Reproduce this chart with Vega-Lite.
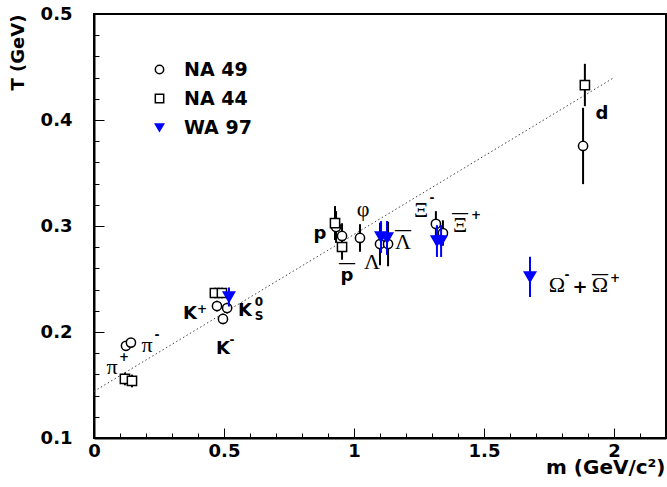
{
  "$schema": "https://vega.github.io/schema/vega-lite/v6.json",
  "width": 572,
  "height": 424,
  "autosize": {"type": "none"},
  "padding": {"left": 94, "top": 14, "right": 1, "bottom": 49},
  "background": "white",
  "config": {
    "font": "DejaVu Sans",
    "view": {"stroke": "black", "strokeWidth": 2},
    "axis": {
      "grid": false,
      "domainColor": "black",
      "domainWidth": 2,
      "tickColor": "black",
      "tickWidth": 1,
      "labelFont": "DejaVu Sans",
      "labelFontWeight": "bold",
      "labelFontSize": 18,
      "labelColor": "black",
      "titleFont": "DejaVu Sans",
      "titleFontWeight": "bold",
      "titleFontSize": 18,
      "titleColor": "black"
    },
    "legend": {
      "orient": "none",
      "legendX": 56,
      "legendY": 46,
      "title": null,
      "padding": 0,
      "labelFont": "DejaVu Sans",
      "labelFontWeight": "bold",
      "labelFontSize": 19,
      "labelColor": "black",
      "symbolSize": 70,
      "symbolStrokeWidth": 1.5,
      "rowPadding": 9,
      "labelOffset": 15
    }
  },
  "datasets": {
    "pts": [
      {"exp": "NA 49", "particle": "pi+", "m": 0.123, "T": 0.187, "err": 0.004},
      {"exp": "NA 49", "particle": "pi-", "m": 0.142, "T": 0.190, "err": 0.004},
      {"exp": "NA 49", "particle": "K+", "m": 0.473, "T": 0.2245, "err": 0.005},
      {"exp": "NA 49", "particle": "K+b", "m": 0.512, "T": 0.2226, "err": 0.005},
      {"exp": "NA 49", "particle": "K-", "m": 0.496, "T": 0.2123, "err": 0.005},
      {"exp": "NA 49", "particle": "p", "m": 0.931, "T": 0.299, "err": 0.015},
      {"exp": "NA 49", "particle": "pbar", "m": 0.954, "T": 0.2906, "err": 0.012},
      {"exp": "NA 49", "particle": "phi", "m": 1.023, "T": 0.2887, "err": 0.013},
      {"exp": "NA 49", "particle": "Lambda", "m": 1.100, "T": 0.283, "err": 0.02},
      {"exp": "NA 49", "particle": "Lambdabar", "m": 1.131, "T": 0.283, "err": 0.021},
      {"exp": "NA 49", "particle": "Xi-", "m": 1.315, "T": 0.302, "err": 0.012},
      {"exp": "NA 49", "particle": "Xibar+", "m": 1.342, "T": 0.2934, "err": 0.012},
      {"exp": "NA 49", "particle": "d", "m": 1.881, "T": 0.3755, "err": 0.036},
      {"exp": "NA 44", "particle": "pi+", "m": 0.119, "T": 0.1557, "err": 0.006},
      {"exp": "NA 44", "particle": "pi-", "m": 0.146, "T": 0.1538, "err": 0.006},
      {"exp": "NA 44", "particle": "K+", "m": 0.465, "T": 0.2368, "err": 0.005},
      {"exp": "NA 44", "particle": "K-", "m": 0.492, "T": 0.2368, "err": 0.005},
      {"exp": "NA 44", "particle": "p", "m": 0.927, "T": 0.3028, "err": 0.016},
      {"exp": "NA 44", "particle": "pbar", "m": 0.954, "T": 0.2802, "err": 0.012},
      {"exp": "NA 44", "particle": "d", "m": 1.888, "T": 0.433, "err": 0.02},
      {"exp": "WA 97", "particle": "K0s", "m": 0.519, "T": 0.233, "err": 0.009},
      {"exp": "WA 97", "particle": "Lambda", "m": 1.104, "T": 0.2896, "err": 0.015},
      {"exp": "WA 97", "particle": "Lambdabar", "m": 1.127, "T": 0.2887, "err": 0.016},
      {"exp": "WA 97", "particle": "Xi-", "m": 1.319, "T": 0.2858, "err": 0.015},
      {"exp": "WA 97", "particle": "Xibar+", "m": 1.335, "T": 0.2858, "err": 0.015},
      {"exp": "WA 97", "particle": "Omega", "m": 1.677, "T": 0.252, "err": 0.019}
    ],
    "fit": [
      {"m": 0.0, "T": 0.144},
      {"m": 2.0, "T": 0.44}
    ],
    "serif": [
      {"label": "π", "m": 0.0692, "T": 0.167},
      {"label": "π", "m": 0.2038, "T": 0.1877},
      {"label": "Λ", "m": 1.0692, "T": 0.266},
      {"label": "Λ", "m": 1.1885, "T": 0.2849},
      {"label": "φ", "m": 1.0346, "T": 0.3165},
      {"label": "Ξ", "m": 1.2577, "T": 0.3151},
      {"label": "Ξ", "m": 1.4077, "T": 0.3009},
      {"label": "Ω", "m": 1.7808, "T": 0.2443},
      {"label": "Ω", "m": 1.9462, "T": 0.2443}
    ],
    "bold": [
      {"label": "K", "m": 0.3692, "T": 0.217},
      {"label": "K", "m": 0.5808, "T": 0.2198},
      {"label": "K", "m": 0.4962, "T": 0.184},
      {"label": "p", "m": 0.8692, "T": 0.2925},
      {"label": "p", "m": 0.9731, "T": 0.2528},
      {"label": "d", "m": 1.9538, "T": 0.4057},
      {"label": "+", "m": 1.8692, "T": 0.2415}
    ],
    "sup": [
      {"label": "+", "m": 0.1154, "T": 0.1764},
      {"label": "-", "m": 0.2423, "T": 0.1972},
      {"label": "+", "m": 0.4154, "T": 0.2217},
      {"label": "0", "m": 0.6346, "T": 0.2283},
      {"label": "S", "m": 0.6346, "T": 0.2151},
      {"label": "-", "m": 0.5308, "T": 0.1925},
      {"label": "-", "m": 1.2995, "T": 0.3264},
      {"label": "+", "m": 1.4692, "T": 0.3104},
      {"label": "-", "m": 1.8192, "T": 0.2538},
      {"label": "+", "m": 2.0038, "T": 0.2509}
    ],
    "bars": [
      {"label": "—", "m": 0.9731, "T": 0.2651},
      {"label": "—", "m": 1.1885, "T": 0.2962},
      {"label": "—", "m": 1.4077, "T": 0.3123},
      {"label": "—", "m": 1.9462, "T": 0.2547}
    ]
  },
  "encoding": {
    "x": {
      "field": "m",
      "type": "quantitative",
      "scale": {"domain": [0, 2.2], "nice": false, "zero": false},
      "axis": {
        "title": "m (GeV/c²)",
        "values": [0, 0.1, 0.2, 0.3, 0.4, 0.5, 0.6, 0.7, 0.8, 0.9, 1, 1.1, 1.2, 1.3, 1.4, 1.5, 1.6, 1.7, 1.8, 1.9, 2, 2.1, 2.2],
        "labelExpr": "abs(datum.value*2 - round(datum.value*2)) < 0.001 ? format(datum.value, '~g') : ''",
        "tickSize": {"condition": {"test": "abs(datum.value*2 - round(datum.value*2)) < 0.001", "value": -10}, "value": -5},
        "labelPadding": 14,
        "labelFlush": false,
        "labelOverlap": false,
        "titleFontSize": 20,
        "titleAnchor": "end",
        "titleAlign": "right",
        "titleBaseline": "alphabetic",
        "titleX": 571,
        "titleY": 35
      }
    },
    "y": {
      "field": "T",
      "type": "quantitative",
      "scale": {"domain": [0.1, 0.5], "nice": false, "zero": false},
      "axis": {
        "title": "T (GeV)",
        "values": [0.1, 0.12, 0.14, 0.16, 0.18, 0.2, 0.22, 0.24, 0.26, 0.28, 0.3, 0.32, 0.34, 0.36, 0.38, 0.4, 0.42, 0.44, 0.46, 0.48, 0.5],
        "labelExpr": "abs(datum.value*10 - round(datum.value*10)) < 0.001 ? format(datum.value, '.1f') : ''",
        "tickSize": {"condition": {"test": "abs(datum.value*10 - round(datum.value*10)) < 0.001", "value": -10}, "value": -5},
        "labelPadding": 32,
        "labelFlush": false,
        "labelOverlap": false,
        "titleAnchor": "end",
        "titleAlign": "right",
        "titleBaseline": "alphabetic",
        "titleAngle": -90,
        "titleX": -71,
        "titleY": 0
      }
    }
  },
  "layer": [
    {
      "data": {"name": "fit"},
      "mark": {"type": "line", "color": "#444444", "strokeWidth": 1, "strokeDash": [1.5, 2.5]}
    },
    {
      "data": {"name": "pts"},
      "transform": [{"filter": "datum.exp !== 'WA 97'"}],
      "mark": {"type": "errorbar", "color": "black", "thickness": 2},
      "encoding": {"yError": {"field": "err"}}
    },
    {
      "data": {"name": "pts"},
      "transform": [{"filter": "datum.exp !== 'WA 97'"}],
      "mark": {"type": "point", "strokeWidth": 1.5, "size": 85, "opacity": 1, "filled": false},
      "encoding": {
        "shape": {"field": "exp", "type": "nominal", "scale": {"domain": ["NA 49", "NA 44", "WA 97"], "range": ["circle", "square", "triangle-down"]}},
        "stroke": {"field": "exp", "type": "nominal", "scale": {"domain": ["NA 49", "NA 44", "WA 97"], "range": ["black", "black", "#0000ff"]}},
        "fill": {"field": "exp", "type": "nominal", "scale": {"domain": ["NA 49", "NA 44", "WA 97"], "range": ["white", "white", "#0000ff"]}}
      }
    },
    {
      "data": {"name": "pts"},
      "transform": [{"filter": "datum.exp === 'WA 97'"}],
      "mark": {"type": "errorbar", "color": "#0000ff", "thickness": 2},
      "encoding": {"yError": {"field": "err"}}
    },
    {
      "data": {"name": "pts"},
      "transform": [{"filter": "datum.exp === 'WA 97'"}],
      "mark": {"type": "point", "strokeWidth": 1.5, "size": 130, "opacity": 1, "filled": false},
      "encoding": {
        "shape": {"field": "exp", "type": "nominal", "scale": {"domain": ["NA 49", "NA 44", "WA 97"], "range": ["circle", "square", "triangle-down"]}},
        "stroke": {"field": "exp", "type": "nominal", "scale": {"domain": ["NA 49", "NA 44", "WA 97"], "range": ["black", "black", "#0000ff"]}},
        "fill": {"field": "exp", "type": "nominal", "scale": {"domain": ["NA 49", "NA 44", "WA 97"], "range": ["white", "white", "#0000ff"]}}
      }
    },
    {
      "data": {"name": "serif"},
      "mark": {"type": "text", "font": "Liberation Serif", "fontSize": 22, "color": "black", "align": "center", "baseline": "middle"},
      "encoding": {"text": {"field": "label"}}
    },
    {
      "data": {"name": "bold"},
      "mark": {"type": "text", "font": "DejaVu Sans", "fontWeight": "bold", "fontSize": 18, "color": "black", "align": "center", "baseline": "middle"},
      "encoding": {"text": {"field": "label"}}
    },
    {
      "data": {"name": "sup"},
      "mark": {"type": "text", "font": "DejaVu Sans", "fontWeight": "bold", "fontSize": 12, "color": "black", "align": "center", "baseline": "middle"},
      "encoding": {"text": {"field": "label"}}
    },
    {
      "data": {"name": "bars"},
      "mark": {"type": "text", "font": "DejaVu Sans", "fontSize": 18, "color": "black", "align": "center", "baseline": "middle"},
      "encoding": {"text": {"field": "label"}}
    }
  ]
}
